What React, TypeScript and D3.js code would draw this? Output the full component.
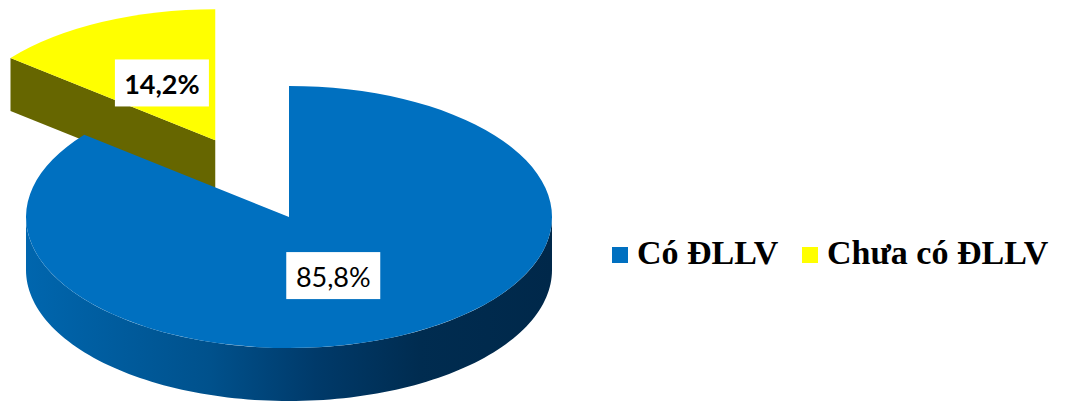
import React from "react";
import * as d3 from "d3";

const categories = ["Có ĐLLV", "Chưa có ĐLLV"];
const values = [85.8, 14.2];
const labels = ["85,8%", "14,2%"];

const topColors = ["#0070C0", "#FFFF00"];
const sideColors = ["#0066AE", "#666600"];

const W = 1066, H = 403;
const cx = 289, cy = 217, rx = 263, ry = 131, depth = 53;
const explode = [0, 0.65];
const labelFx = [0.39, 0.47];
const labelFy = [0.5, 0.48];
const labelBold = [false, true];

function pt(theta: number, ox: number, oy: number, f = 1) {
  return [ox + rx * f * Math.sin(theta), oy - ry * f * Math.cos(theta)];
}

export default function App() {
  const pie = d3.pie<number>().sort(null).startAngle(0).endAngle(2 * Math.PI);
  const arcs = pie(values);
  const arcGen = d3.arc<any>().innerRadius(0).outerRadius(rx);
  const line = d3.line();

  const slices = arcs.map((a, i) => {
    const mid = (a.startAngle + a.endAngle) / 2;
    const [ox, oy] = pt(mid, cx, cy, explode[i]);
    return { a, i, mid, ox, oy };
  });

  const order = [1, 0];

  return (
    <svg width={W} height={H} style={{ position: "absolute", left: 0, top: 0 }}>
      <defs>
        <linearGradient id="rimGrad" x1={cx - rx} x2={cx + rx} y1={0} y2={0} gradientUnits="userSpaceOnUse">
          <stop offset="0%" stopColor="#0066AE" />
          <stop offset="35%" stopColor="#00518C" />
          <stop offset="55%" stopColor="#003A6A" />
          <stop offset="75%" stopColor="#002C50" />
          <stop offset="100%" stopColor="#00284A" />
        </linearGradient>
      </defs>
      <rect width={W} height={H} fill="#fff" />
      {order.map((i) => {
        const s = slices[i];
        const { a, ox, oy } = s;
        const parts: React.ReactNode[] = [];
        const lo = Math.max(a.startAngle, Math.PI / 2);
        const hi = Math.min(a.endAngle, (3 * Math.PI) / 2);
        if (hi > lo) {
          const n = 120;
          const top: [number, number][] = d3.range(n + 1).map((k) => {
            const t = lo + ((hi - lo) * k) / n;
            return pt(t, ox, oy) as [number, number];
          });
          const bot = top.slice().reverse().map(([x, y]) => [x, y + depth] as [number, number]);
          parts.push(
            <path key="rim" d={line([...top, ...bot]) + "Z"} fill={i === 0 ? "url(#rimGrad)" : sideColors[i]} />
          );
        }
        const faces = [a.startAngle, a.endAngle];
        faces.forEach((t, fi) => {
          const angDeg = ((t * 180) / Math.PI) % 360;
          const normal = fi === 0 ? t - Math.PI / 2 : t + Math.PI / 2;
          const facing = -Math.cos(normal);
          if (facing > 0.01 && !(angDeg === 0)) {
            const [px, py] = pt(t, ox, oy);
            const poly: [number, number][] = [
              [ox, oy],
              [px, py],
              [px, py + depth],
              [ox, oy + depth],
            ];
            parts.push(<path key={"f" + fi} d={line(poly) + "Z"} fill={sideColors[i]} />);
          }
        });
        parts.push(
          <path
            key="top"
            d={arcGen(a) as string}
            transform={`translate(${ox},${oy}) scale(1,${ry / rx})`}
            fill={topColors[i]}
          />
        );
        return <g key={i}>{parts}</g>;
      })}
      {slices.map((s) => {
        const lx = s.ox + rx * labelFx[s.i] * Math.sin(s.mid);
        const ly = s.oy - ry * labelFy[s.i] * Math.cos(s.mid);
        return (
          <g key={"l" + s.i}>
            <rect x={lx - 47} y={ly - 24} width={94} height={47} fill="#fff" />
            <text
              x={lx}
              y={ly}
              textAnchor="middle"
              dominantBaseline="central"
              fontFamily="Lato, 'Open Sans', sans-serif"
              fontWeight={labelBold[s.i] ? 700 : 400}
              fontSize={27}
              fill="#000"
            >
              {labels[s.i]}
            </text>
          </g>
        );
      })}
      <g fontFamily="'Liberation Serif', 'Times New Roman', serif" fontWeight={700} fontSize={34} fill="#000">
        {categories.map((c, i) => {
          const xs = [612, 802];
          return (
            <g key={c}>
              <rect x={xs[i]} y={247} width={16} height={16} fill={topColors[i]} />
              <text x={xs[i] + 25} y={264}>{c}</text>
            </g>
          );
        })}
      </g>
    </svg>
  );
}
